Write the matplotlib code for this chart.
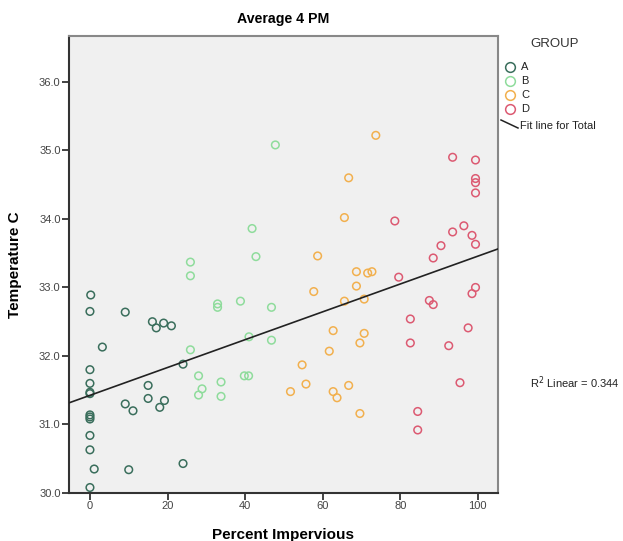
import numpy as np
import matplotlib
matplotlib.use("Agg")
import matplotlib.pyplot as plt
from matplotlib.lines import Line2D

plt.rcParams['font.family'] = ['Liberation Sans', 'DejaVu Sans']

# ---- data ----
groups = ["A", "B", "C", "D"]
colors = {"A": "#3a6e5c", "B": "#8fdc9c", "C": "#f2b04e", "D": "#dc5a72"}

a_x = [0.2, 0, 9.1, 3.2, 16.1, 17.1, 19.0, 21.0, 0, 0, 0, 0, 24.0, 15.0, 15.0, 9.1,
       11.1, 18.0, 19.2, 0, 0, 0, 0, 0, 1.1, 10.0, 24.0, 0]
a_y = [32.89, 32.65, 32.64, 32.13, 32.50, 32.41, 32.48, 32.44, 31.80, 31.60, 31.47, 31.45,
       31.88, 31.57, 31.38, 31.30, 31.20, 31.25, 31.35, 31.14, 31.11, 31.08, 30.84, 30.63,
       30.35, 30.34, 30.43, 30.08]

b_x = [47.8, 41.8, 42.8, 25.9, 25.9, 32.9, 32.9, 38.8, 46.8, 41.0, 46.8, 25.9, 28.0,
       28.9, 28.0, 33.8, 33.8, 39.8, 40.9]
b_y = [35.08, 33.86, 33.45, 33.37, 33.17, 32.76, 32.71, 32.80, 32.71, 32.28, 32.23, 32.09,
       31.71, 31.52, 31.43, 31.62, 31.41, 31.71, 31.71]

c_x = [73.7, 66.7, 65.6, 58.7, 68.7, 71.6, 72.7, 68.7, 57.7, 65.6, 70.7, 62.7, 70.7, 69.6,
       61.7, 54.7, 55.7, 66.7, 62.7, 63.7, 69.6, 51.7]
c_y = [35.22, 34.60, 34.02, 33.46, 33.23, 33.21, 33.23, 33.02, 32.94, 32.80, 32.83, 32.37,
       32.33, 32.19, 32.07, 31.87, 31.59, 31.57, 31.48, 31.39, 31.16, 31.48]

d_x = [93.5, 99.4, 99.4, 99.4, 99.4, 78.6, 96.4, 93.5, 98.5, 99.4, 90.5, 88.5, 79.6, 99.4,
       98.5, 87.5, 88.5, 82.6, 97.5, 82.6, 92.5, 95.4, 84.5, 84.5]
d_y = [34.90, 34.86, 34.59, 34.53, 34.38, 33.97, 33.90, 33.81, 33.76, 33.63, 33.61, 33.43,
       33.15, 33.00, 32.91, 32.81, 32.75, 32.54, 32.41, 32.19, 32.15, 31.61, 31.19, 30.92]

series = {"A": (a_x, a_y), "B": (b_x, b_y), "C": (c_x, c_y), "D": (d_x, d_y)}

x_ticks = [0, 20, 40, 60, 80, 100]
y_ticks = [30.0, 31.0, 32.0, 33.0, 34.0, 35.0, 36.0]
r2_text = "0.344"

# ---- figure ----
W, H = 623, 541
fig = plt.figure(figsize=(W / 100, H / 100), dpi=100)
ax = fig.add_axes([69 / W, 1 - 493 / H, (498 - 69) / W, (493 - 36) / H])
ax.set_facecolor("#f0f0f0")

for g in groups:
    xs, ys = series[g]
    ax.scatter(xs, ys, s=30, facecolors="none", edgecolors=colors[g], linewidths=1.1, zorder=3)

xlim = (-5.4, 105.2)
ylim = (30.0, 36.67)
ax.set_xlim(*xlim)
ax.set_ylim(*ylim)

allx = np.concatenate([np.array(series[g][0]) for g in groups])
ally = np.concatenate([np.array(series[g][1]) for g in groups])
slope, intercept = np.polyfit(allx, ally, 1)
lx = np.array(xlim)
ax.plot(lx, intercept + slope * lx, color="#222222", lw=1.2, zorder=4)

ax.set_xticks(x_ticks)
ax.set_xticklabels([str(t) for t in x_ticks])
ax.set_yticks(y_ticks)
ax.set_yticklabels([f"{t:.1f}" for t in y_ticks])
ax.tick_params(axis="both", direction="out", length=5, width=1.2, color="#222222",
               labelsize=8, labelcolor="#444444", pad=1)

for side in ["left", "bottom"]:
    ax.spines[side].set_color("#333333")
    ax.spines[side].set_linewidth(1.5)
for side in ["top", "right"]:
    ax.spines[side].set_color("#888888")
    ax.spines[side].set_linewidth(1.5)

ax.set_title("Average 4 PM", fontsize=10.2, fontweight="bold", pad=9)
ax.set_xlabel("Percent Impervious", fontsize=11, fontweight="bold", labelpad=12)
ax.set_ylabel("Temperature C", fontsize=11, fontweight="bold", labelpad=12)

# ---- legend (manual, SPSS style) ----
fig.text(555 / W, 1 - 44 / H, "GROUP", fontsize=9.5, ha="center", va="center", color="#333333")
ly = [67, 81, 95, 109]
for g, yy in zip(groups, ly):
    fig.add_artist(Line2D([510 / W], [1 - yy / H], marker="o", markersize=7,
                          markerfacecolor="none", markeredgecolor=colors[g],
                          markeredgewidth=1.1, linestyle="none", transform=fig.transFigure))
    fig.text(521 / W, 1 - yy / H, g, fontsize=8, ha="left", va="center", color="#222222")
fig.add_artist(Line2D([501 / W, 518 / W], [1 - 120 / H, 1 - 128 / H], color="#222222",
                      lw=1.1, transform=fig.transFigure))
fig.text(520 / W, 1 - 126 / H, "Fit line for Total", fontsize=8, ha="left", va="center",
         color="#222222")

fig.text(530 / W, 1 - 383 / H, "R$^2$ Linear = " + r2_text, fontsize=8, ha="left",
         va="center", color="#222222")

fig.savefig("out.png", dpi=100)
